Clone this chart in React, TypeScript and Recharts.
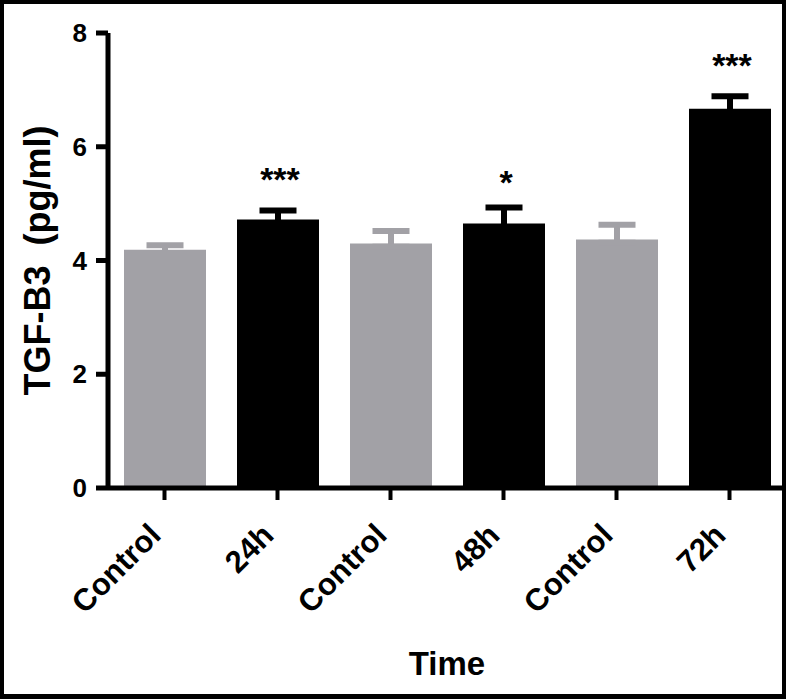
import { Bar, BarChart, Cell, ErrorBar, Label, LabelList, XAxis, YAxis } from 'recharts';

const categories = ['Control', '24h', 'Control', '48h', 'Control', '72h'];
const means = [4.19, 4.72, 4.3, 4.65, 4.37, 6.67];
const sems = [0.08, 0.16, 0.22, 0.28, 0.26, 0.22];
const treated = [false, true, false, true, false, true];
const stars = ['', '***', '', '*', '', '***'];
const yTicks = [0, 2, 4, 6, 8];

const GRAY = '#a2a1a6';
const BLACK = '#000';
const FONT = '"Liberation Sans", Arial, sans-serif';
// lower whisker is tucked inside the bar so only the upward half shows
const HIDE_LOW = 0.06;

const data = categories.map((name, i) => ({
    name,
    mean: means[i],
    errGray: treated[i] ? undefined : [HIDE_LOW, sems[i]],
    errBlack: treated[i] ? [HIDE_LOW, sems[i]] : undefined,
    sig: stars[i]
}));

const XTick = ({ x, y, payload }: any) => (
    <g transform={`translate(${x - 2},${y + 35})`}>
        <text
            x={0}
            y={0}
            transform='rotate(-45)'
            textAnchor='end'
            fontFamily={FONT}
            fontWeight={700}
            fontSize={31}
            fill='#000'
        >
            {payload.value}
        </text>
    </g>
);

const StarLabel = (props: any) => {
    const { index, value } = props;
    if (!value) return null;
    const vb = props.viewBox || props;
    const x = Number(vb.x);
    const y = Number(vb.y);
    const w = Number(vb.width);
    const h = Number(vb.height);
    const errPx = (h * sems[index]) / means[index];
    const gap = String(value).length > 1 ? 19 : 14;
    return (
        <text
            x={x + w / 2 + 2}
            y={y - errPx - gap}
            textAnchor='middle'
            fontFamily={FONT}
            fontWeight={700}
            fontSize={34}
            fill='#000'
        >
            {value}
        </text>
    );
};

const YTitle = ({ viewBox }: any) => {
    const cx = 50;
    const cy = viewBox.y + viewBox.height / 2;
    return (
        <text
            x={cx}
            y={cy}
            transform={`rotate(-90, ${cx}, ${cy})`}
            textAnchor='middle'
            fontFamily={FONT}
            fontWeight={700}
            fontSize={36}
            fill='#000'
            style={{ whiteSpace: 'pre' }}
        >
            {'TGF-B3  (pg/ml)'}
        </text>
    );
};

const XTitle = ({ viewBox }: any) => (
    <text
        x={viewBox.x + viewBox.width / 2}
        y={675}
        textAnchor='middle'
        fontFamily={FONT}
        fontWeight={700}
        fontSize={33}
        fill='#000'
    >
        Time
    </text>
);

export default function App() {
    return (
        <div
            style={{
                position: 'absolute',
                left: 0,
                top: 0,
                width: 786,
                height: 699,
                background: '#fff'
            }}
        >
            <BarChart
                width={786}
                height={699}
                data={data}
                margin={{ top: 33, right: 0, bottom: 0, left: 0 }}
            >
                <XAxis
                    dataKey='name'
                    height={211}
                    axisLine={{ stroke: '#000', strokeWidth: 5 }}
                    tickLine={{ stroke: '#000', strokeWidth: 4 }}
                    tickSize={12}
                    tick={<XTick />}
                    interval={0}
                >
                    <Label content={<XTitle />} />
                </XAxis>
                <YAxis
                    width={108}
                    domain={[0, 8]}
                    ticks={yTicks}
                    axisLine={{ stroke: '#000', strokeWidth: 5 }}
                    tickLine={{ stroke: '#000', strokeWidth: 5 }}
                    tickSize={12}
                    tickMargin={9}
                    tick={{ fill: '#000', fontFamily: FONT, fontWeight: 700, fontSize: 26 }}
                >
                    <Label content={<YTitle />} />
                </YAxis>
                <Bar dataKey='mean' barSize={82} isAnimationActive={false}>
                    {data.map((d, i) => (
                        <Cell key={i} fill={treated[i] ? BLACK : GRAY} />
                    ))}
                    <ErrorBar
                        dataKey='errGray'
                        direction='y'
                        width={18.5}
                        stroke={GRAY}
                        strokeWidth={6}
                        isAnimationActive={false}
                    />
                    <ErrorBar
                        dataKey='errBlack'
                        direction='y'
                        width={18.5}
                        stroke={BLACK}
                        strokeWidth={6}
                        isAnimationActive={false}
                    />
                    <LabelList dataKey='sig' content={<StarLabel />} />
                </Bar>
            </BarChart>
            <div
                style={{
                    position: 'absolute',
                    inset: 0,
                    border: '4px solid #000',
                    borderBottomWidth: 5,
                    boxSizing: 'border-box',
                    pointerEvents: 'none'
                }}
            />
        </div>
    );
}
